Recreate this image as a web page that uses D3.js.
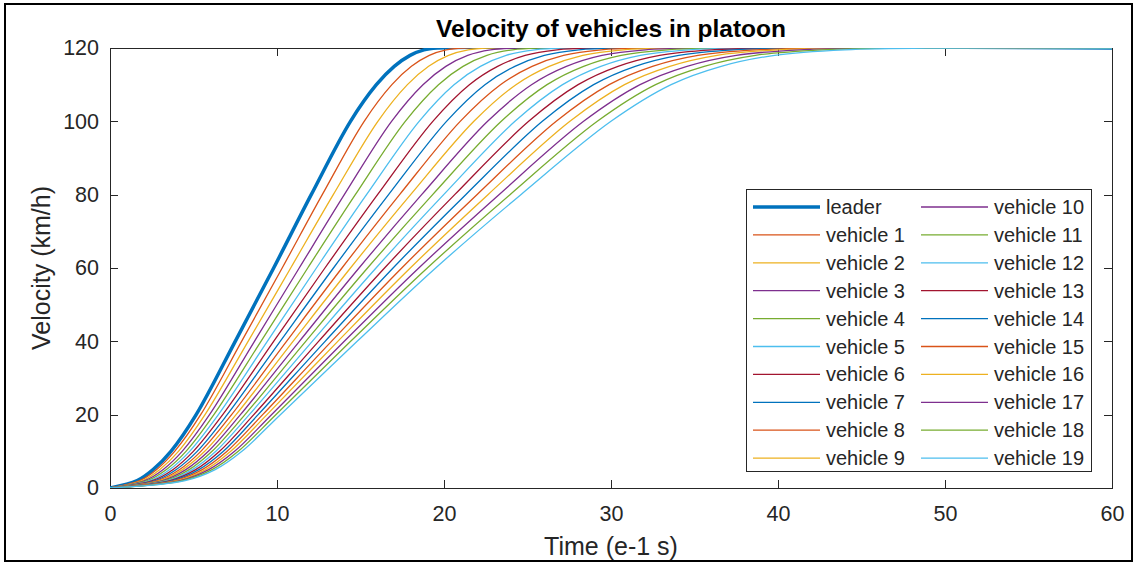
<!DOCTYPE html>
<html lang="en">
<head>
<meta charset="UTF-8">
<title>Velocity of vehicles in platoon</title>
<script src="https://d3js.org/d3.v7.min.js"></script>
<style>
  body { margin: 0; background: #fff; }
  svg { display: block; font-family: Arial, "Liberation Sans", Helvetica, sans-serif; }
  .axis path, .axis line { stroke: #262626; stroke-width: 1px; shape-rendering: crispEdges; }
  .axis text { font-size: 21.5px; fill: #262626; font-family: Arial, "Liberation Sans", sans-serif; }
  .label { font-size: 25px; fill: #262626; }
  .title { font-size: 24.5px; font-weight: bold; fill: #000; }
  .legend text { font-size: 20px; fill: #262626; }
</style>
</head>
<body>
<svg width="1137" height="563"></svg>
<script>
// velocity levels (km/h) and the time (e-1 s) at which each vehicle reaches them
const velocityLevels = [0, 2, 5, 10, 20, 40, 60, 80, 100, 110, 115, 118, 119.5, 120, 120];

const seriesNames = ["leader", "vehicle 1", "vehicle 2", "vehicle 3", "vehicle 4", "vehicle 5",
  "vehicle 6", "vehicle 7", "vehicle 8", "vehicle 9", "vehicle 10", "vehicle 11", "vehicle 12",
  "vehicle 13", "vehicle 14", "vehicle 15", "vehicle 16", "vehicle 17", "vehicle 18", "vehicle 19"];

const crossingTimes = [
  [0, 1.63, 2.58, 3.65, 5.16, 7.50, 9.80, 12.05, 14.40, 15.95, 17.02, 17.97, 18.80, 19.60, 60],
  [0, 1.78, 2.78, 3.87, 5.43, 7.88, 10.31, 12.71, 15.22, 16.88, 18.05, 19.12, 20.13, 21.20, 60],
  [0, 1.93, 2.97, 4.10, 5.69, 8.27, 10.82, 13.37, 16.04, 17.81, 19.08, 20.27, 21.45, 22.80, 60],
  [0, 2.08, 3.17, 4.32, 5.96, 8.65, 11.33, 14.03, 16.86, 18.74, 20.11, 21.42, 22.78, 24.40, 60],
  [0, 2.23, 3.36, 4.55, 6.22, 9.04, 11.84, 14.69, 17.68, 19.67, 21.14, 22.57, 24.10, 26.00, 60],
  [0, 2.39, 3.56, 4.77, 6.49, 9.42, 12.36, 15.36, 18.51, 20.60, 22.18, 23.72, 25.43, 27.60, 60],
  [0, 2.54, 3.76, 4.99, 6.75, 9.80, 12.87, 16.02, 19.33, 21.52, 23.21, 24.86, 26.76, 29.20, 60],
  [0, 2.69, 3.95, 5.22, 7.02, 10.19, 13.38, 16.68, 20.15, 22.45, 24.24, 26.01, 28.08, 30.80, 60],
  [0, 2.84, 4.15, 5.44, 7.28, 10.57, 13.89, 17.34, 20.97, 23.38, 25.27, 27.16, 29.41, 32.40, 60],
  [0, 2.99, 4.34, 5.67, 7.55, 10.96, 14.40, 18.00, 21.79, 24.31, 26.30, 28.31, 30.73, 34.00, 60],
  [0, 3.14, 4.54, 5.89, 7.81, 11.34, 14.91, 18.66, 22.61, 25.24, 27.33, 29.46, 32.06, 35.60, 60],
  [0, 3.29, 4.74, 6.11, 8.08, 11.72, 15.42, 19.32, 23.43, 26.17, 28.36, 30.61, 33.39, 37.20, 60],
  [0, 3.44, 4.93, 6.34, 8.34, 12.11, 15.93, 19.98, 24.25, 27.10, 29.39, 31.76, 34.71, 38.80, 60],
  [0, 3.59, 5.13, 6.56, 8.61, 12.49, 16.44, 20.64, 25.07, 28.03, 30.42, 32.91, 36.04, 40.40, 60],
  [0, 3.74, 5.32, 6.79, 8.87, 12.88, 16.95, 21.30, 25.89, 28.96, 31.45, 34.06, 37.36, 42.00, 60],
  [0, 3.90, 5.52, 7.01, 9.14, 13.26, 17.47, 21.97, 26.72, 29.89, 32.49, 35.21, 38.69, 43.60, 60],
  [0, 4.05, 5.72, 7.23, 9.40, 13.64, 17.98, 22.63, 27.54, 30.81, 33.52, 36.35, 40.02, 45.20, 60],
  [0, 4.20, 5.91, 7.46, 9.67, 14.03, 18.49, 23.29, 28.36, 31.74, 34.55, 37.50, 41.34, 46.80, 60],
  [0, 4.35, 6.11, 7.68, 9.93, 14.41, 19.00, 23.95, 29.18, 32.67, 35.58, 38.65, 42.67, 48.40, 60],
  [0, 4.50, 6.30, 7.90, 10.20, 14.80, 19.50, 24.60, 30.00, 33.60, 36.60, 39.80, 44.00, 50.00, 60]
];

const xTicks = [0, 10, 20, 30, 40, 50, 60];
const yTicks = [0, 20, 40, 60, 80, 100, 120];
const colorOrder = ["#0072BD", "#D95319", "#EDB120", "#7E2F8E", "#77AC30", "#4DBEEE", "#A2142F"];

const svg = d3.select("svg");
const plot = { left: 110, top: 48, right: 1112, bottom: 488 };

// figure frame
svg.append("rect")
  .attr("x", 5).attr("y", 4).attr("width", 1127).attr("height", 557)
  .attr("fill", "#fff").attr("stroke", "#000").attr("stroke-width", 2);

const x = d3.scaleLinear().domain([0, 60]).range([plot.left, plot.right]);
const y = d3.scaleLinear().domain([0, 120]).range([plot.bottom, plot.top]);

// axes (box with inward ticks)
svg.append("g").attr("class", "axis")
  .attr("transform", `translate(0,${plot.bottom})`)
  .call(d3.axisBottom(x).tickValues(xTicks).tickSizeInner(-8).tickSizeOuter(0).tickPadding(18));
svg.append("g").attr("class", "axis")
  .attr("transform", `translate(0,${plot.top})`)
  .call(d3.axisTop(x).tickValues(xTicks).tickSizeInner(-8).tickSizeOuter(0).tickFormat(""));
svg.append("g").attr("class", "axis")
  .attr("transform", `translate(${plot.left},0)`)
  .call(d3.axisLeft(y).tickValues(yTicks).tickSizeInner(-8).tickSizeOuter(0).tickPadding(11));
svg.append("g").attr("class", "axis")
  .attr("transform", `translate(${plot.right},0)`)
  .call(d3.axisRight(y).tickValues(yTicks).tickSizeInner(-8).tickSizeOuter(0).tickFormat(""));

// curves
svg.append("clipPath").attr("id", "clip")
  .append("rect")
  .attr("x", plot.left).attr("y", plot.top)
  .attr("width", plot.right - plot.left).attr("height", plot.bottom - plot.top);

const line = d3.line()
  .x(d => x(d[0]))
  .y(d => y(d[1]))
  .curve(d3.curveCatmullRom.alpha(0.5));

const curves = svg.append("g").attr("clip-path", "url(#clip)");
crossingTimes.forEach((times, i) => {
  const pts = times.map((t, j) => [t, velocityLevels[j]]);
  curves.append("path")
    .attr("d", line(pts))
    .attr("fill", "none")
    .attr("stroke", colorOrder[i % colorOrder.length])
    .attr("stroke-width", i === 0 ? 3.5 : 1.3);
});

// texts
svg.append("text").attr("class", "title")
  .attr("x", (plot.left + plot.right) / 2).attr("y", 37)
  .attr("text-anchor", "middle")
  .text("Velocity of vehicles in platoon");
svg.append("text").attr("class", "label")
  .attr("x", (plot.left + plot.right) / 2).attr("y", 555)
  .attr("text-anchor", "middle")
  .text("Time (e-1 s)");
svg.append("text").attr("class", "label")
  .attr("transform", `translate(50,${(plot.top + plot.bottom) / 2}) rotate(-90)`)
  .attr("text-anchor", "middle")
  .text("Velocity (km/h)");

// legend
const legend = svg.append("g").attr("class", "legend");
legend.append("rect")
  .attr("x", 746.5).attr("y", 189.5).attr("width", 345).attr("height", 282)
  .attr("fill", "#fff").attr("stroke", "#262626").attr("stroke-width", 1);

seriesNames.forEach((name, i) => {
  const col = Math.floor(i / 10), row = i % 10;
  const lx = col === 0 ? 753 : 921;
  const ly = 207 + row * 27.9;
  legend.append("line")
    .attr("x1", lx).attr("x2", lx + 67).attr("y1", ly).attr("y2", ly)
    .attr("stroke", colorOrder[i % colorOrder.length])
    .attr("stroke-width", i === 0 ? 3.5 : 1.3);
  legend.append("text")
    .attr("x", lx + 73).attr("y", ly).attr("dy", "0.35em")
    .text(name);
});
</script>
</body>
</html>
